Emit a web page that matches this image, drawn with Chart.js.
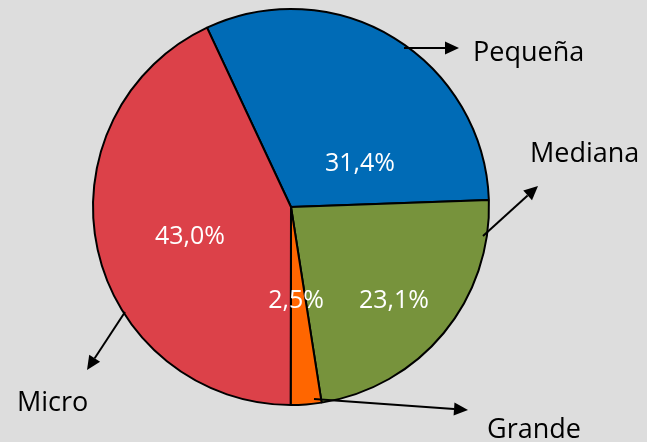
<!DOCTYPE html>
<html>
<head>
<meta charset="utf-8">
<script src="https://cdn.jsdelivr.net/npm/chart.js@4/dist/chart.umd.min.js"></script>
<style>
  html, body { margin: 0; padding: 0; background: #dddddd; }
  #wrap { width: 647px; height: 442px; }
</style>
</head>
<body>
<div id="wrap"><canvas id="c" width="647" height="442"></canvas></div>
<script>
// Data (clockwise from the start angle)
const categories = ["Pequeña", "Mediana", "Grande", "Micro"];
const values = [31.4, 23.1, 2.5, 43.0];
const valueLabels = ["31,4%", "23,1%", "2,5%", "43,0%"];
const colors = ["#006bb6", "#77933c", "#ff6600", "#dc4149"];

// Annotation layout (offsets relative to pie centre, in units of a 198px radius)
const pctPos = [[69, -36], [103, 101], [5, 101], [-101, 37]];         // centre x, baseline
const namePos = [[182, -146], [239, -45], [196, 231], [-274, 204]];   // left x, baseline
const arrows = [
  [[113, -159], [168, -159]],
  [[192, 29], [247, -21]],
  [[23, 192], [177, 203]],
  [[-166, 105], [-204, 163]]
];

const bgPlugin = {
  id: 'bg',
  beforeDraw(chart) {
    const ctx = chart.ctx;
    ctx.save();
    ctx.fillStyle = '#dddddd';
    ctx.fillRect(0, 0, chart.width, chart.height);
    ctx.restore();
  }
};

function drawArrow(ctx, x1, y1, x2, y2) {
  const ang = Math.atan2(y2 - y1, x2 - x1);
  const hl = 14, hw = 6.5;
  const bx = x2 - hl * Math.cos(ang), by = y2 - hl * Math.sin(ang);
  ctx.beginPath();
  ctx.moveTo(x1, y1);
  ctx.lineTo(bx, by);
  ctx.lineWidth = 2;
  ctx.strokeStyle = '#000';
  ctx.stroke();
  ctx.beginPath();
  ctx.moveTo(x2, y2);
  ctx.lineTo(bx - hw * Math.sin(ang), by + hw * Math.cos(ang));
  ctx.lineTo(bx + hw * Math.sin(ang), by - hw * Math.cos(ang));
  ctx.closePath();
  ctx.fillStyle = '#000';
  ctx.fill();
}

const labelPlugin = {
  id: 'labels',
  afterDatasetsDraw(chart) {
    const arc = chart.getDatasetMeta(0).data[0];
    const cx = arc.x, cy = arc.y, s = arc.outerRadius / 198;
    const ctx = chart.ctx;
    ctx.save();
    ctx.fillStyle = '#ffffff';
    ctx.font = '25px "Open Sans", sans-serif';
    ctx.textAlign = 'center';
    ctx.textBaseline = 'alphabetic';
    valueLabels.forEach((t, i) => {
      ctx.fillText(t, cx + pctPos[i][0] * s, cy + pctPos[i][1] * s);
    });
    arrows.forEach(a => {
      drawArrow(ctx, cx + a[0][0] * s, cy + a[0][1] * s, cx + a[1][0] * s, cy + a[1][1] * s);
    });
    ctx.fillStyle = '#000000';
    ctx.font = '27px "Open Sans", sans-serif';
    ctx.textAlign = 'left';
    categories.forEach((t, i) => {
      ctx.fillText(t, cx + namePos[i][0] * s, cy + namePos[i][1] * s);
    });
    ctx.restore();
  }
};

new Chart(document.getElementById('c'), {
  type: 'pie',
  data: {
    labels: categories,
    datasets: [{
      data: values,
      backgroundColor: colors,
      borderColor: '#000000',
      borderWidth: 2,
      borderAlign: 'center'
    }]
  },
  options: {
    responsive: false,
    animation: false,
    rotation: -25.1,
    layout: { padding: { left: 92, right: 157, top: 8, bottom: 36 } },
    plugins: {
      legend: { display: false },
      tooltip: { enabled: false }
    }
  },
  plugins: [bgPlugin, labelPlugin]
});
</script>
</body>
</html>
